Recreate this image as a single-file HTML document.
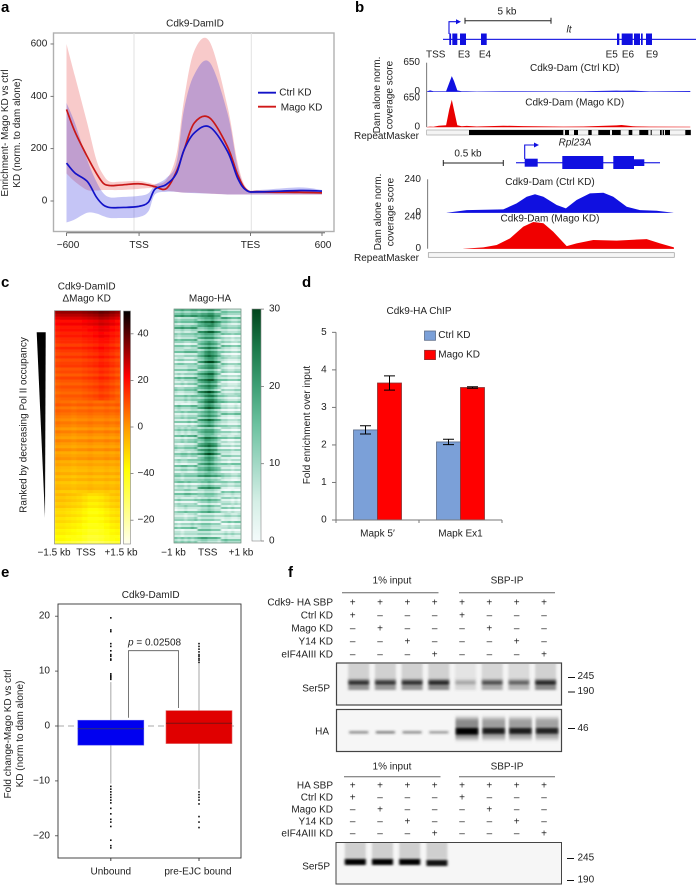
<!DOCTYPE html>
<html lang="en">
<head>
<meta charset="utf-8">
<title>Cdk9 DamID figure</title>
<style>
html,body{margin:0;padding:0;background:#fff;}
svg{display:block;font-family:"Liberation Sans",Arial,sans-serif;font-size:10px;fill:#222;}
.pl{font-size:15px;font-weight:bold;fill:#000;}
.m{text-anchor:middle;dominant-baseline:central;}
.r{text-anchor:end;dominant-baseline:central;}
.l{text-anchor:start;dominant-baseline:central;}
</style>
</head>
<body>
<svg id="fig" xmlns="http://www.w3.org/2000/svg" width="696" height="885" viewBox="0 0 696 885">
<defs>
<linearGradient id="heatGrad" x1="0" y1="1" x2="0" y2="0">
<stop offset="0" stop-color="#fffff0"/><stop offset=".32" stop-color="#ffff00"/><stop offset=".5" stop-color="#ff9a00"/><stop offset=".72" stop-color="#ff0000"/><stop offset="1" stop-color="#000"/>
</linearGradient>
<linearGradient id="greenGrad" x1="0" y1="1" x2="0" y2="0">
<stop offset="0" stop-color="#f4fbfb"/><stop offset=".17" stop-color="#d5efe6"/><stop offset=".33" stop-color="#a3d9c6"/><stop offset=".5" stop-color="#6cc2a0"/><stop offset=".67" stop-color="#3d9f74"/><stop offset=".83" stop-color="#1b7a4a"/><stop offset="1" stop-color="#00441b"/>
</linearGradient>
<linearGradient id="wedgeGrad" x1="0" y1="0" x2="0" y2="1"><stop offset="0" stop-color="#000"/><stop offset="1" stop-color="#111"/></linearGradient>
<filter id="b1" x="-30%" y="-100%" width="160%" height="300%"><feGaussianBlur stdDeviation="1.2 1"/></filter>
<filter id="b2" x="-30%" y="-60%" width="160%" height="220%"><feGaussianBlur stdDeviation="1 2"/></filter>
<filter id="bh" x="-5%" y="-5%" width="110%" height="110%"><feGaussianBlur stdDeviation="0.9 0.3"/></filter>
<clipPath id="clipS1"><rect x="337" y="664" width="224" height="40"/></clipPath>
<clipPath id="clipHA"><rect x="337" y="710" width="224" height="41"/></clipPath>
<clipPath id="clipS2"><rect x="337" y="843" width="224" height="40"/></clipPath>
<clipPath id="clipH1"><rect x="54.5" y="310.7" width="66" height="233.3"/></clipPath>
<clipPath id="clipH2"><rect x="174" y="309" width="67" height="234"/></clipPath>
</defs>

<text class="pl" x="1" y="12">a</text>
<text class="pl" x="355" y="12">b</text>
<text class="pl" x="1" y="287">c</text>
<text class="pl" x="302" y="287">d</text>
<text class="pl" x="1" y="577">e</text>
<text class="pl" x="288" y="577">f</text>

<!-- Panel a -->
<g id="panelA">
<text class="m" x="195" y="24">Cdk9-DamID</text>
<rect x="53.5" y="33" width="280.5" height="198.5" fill="#fff" stroke="#b0b0b0" stroke-width="1.4"/>
<line x1="134" y1="33" x2="134" y2="231" stroke="#e2e2e2"/>
<line x1="251.3" y1="33" x2="251.3" y2="231" stroke="#e2e2e2"/>
<g id="aMarks"></g>
<g id="aAxes"></g>
<text class="m" transform="translate(5.5,133) rotate(-90)">Enrichment- Mago KD vs ctrl</text>
<text class="m" transform="translate(17.5,133) rotate(-90)">KD (norm. to dam alone)</text>
<line x1="258" y1="92.7" x2="276" y2="92.7" stroke="#1212c8" stroke-width="1.8"/>
<line x1="258" y1="106.7" x2="276" y2="106.7" stroke="#d01818" stroke-width="1.8"/>
<text class="l" x="279.3" y="93">Ctrl KD</text>
<text class="l" x="280.7" y="108">Mago KD</text>
</g>

<!-- Panel b -->
<g id="panelB">
<text class="m" x="507" y="12">5 kb</text>
<path d="M465 17.7V23.7M465 20.7H551M551 17.7V23.7" stroke="#222" stroke-width="1" fill="none"/>
<g id="geneLt" fill="#1010e0">
<rect x="443" y="38.8" width="253" height="1.1"/>
<rect x="449.3" y="33.5" width="1.8" height="11.5"/>
<rect x="452.3" y="33.5" width="5" height="11.5"/>
<rect x="460" y="33.5" width="6" height="11.5"/>
<rect x="481" y="33.5" width="5.7" height="11.5"/>
<rect x="617" y="33.5" width="2.3" height="11.5"/>
<rect x="621.7" y="33.5" width="11" height="11.5"/>
<rect x="634" y="33.5" width="6" height="11.5"/>
<rect x="641" y="33.5" width="1.7" height="11.5"/>
<rect x="646" y="33.5" width="6" height="11.5"/>
</g>
<path d="M449 34V21.7H458" stroke="#1010e0" stroke-width="1.1" fill="none"/>
<path d="M461 21.7L456 19.2V24.2Z" fill="#1010e0"/>
<text class="m" x="569" y="30" font-style="italic">lt</text>
<text class="m" x="435.7" y="55">TSS</text>
<text class="m" x="464" y="55">E3</text>
<text class="m" x="485" y="55">E4</text>
<text class="m" x="611.7" y="55">E5</text>
<text class="m" x="628" y="55">E6</text>
<text class="m" x="652" y="55">E9</text>
<text class="m" transform="translate(377.5,95) rotate(-90)">Dam alone norm.</text>
<text class="m" transform="translate(390,95) rotate(-90)">coverage score</text>
<g id="bTracks"></g>
<line x1="426.7" y1="62.7" x2="426.7" y2="127" stroke="#555" stroke-width=".8"/>
<line x1="427.7" y1="179.3" x2="427.7" y2="248.7" stroke="#555" stroke-width=".8"/>
<text class="m" x="574.7" y="68.3">Cdk9-Dam (Ctrl KD)</text>
<text class="m" x="574.7" y="103">Cdk9-Dam (Mago KD)</text>
<text class="r" x="419" y="136.5">RepeatMasker</text>
<rect x="426.7" y="130" width="264" height="5" fill="#f4f4f4" stroke="#999" stroke-width=".6"/>
<g fill="#000">
<rect x="469" y="130" width="94.3" height="5"/>
<rect x="565" y="130" width="4" height="5"/>
<rect x="574" y="130" width="4" height="5"/>
<rect x="588.3" y="130" width="3.4" height="5"/>
<rect x="598.3" y="130" width="11.7" height="5"/>
<rect x="612" y="130" width="8.7" height="5"/>
<rect x="628.7" y="130" width="3.6" height="5"/>
<rect x="639.3" y="130" width="9" height="5"/>
<rect x="650.7" y="130" width="1" height="5"/>
<rect x="660" y="130" width="1.7" height="5"/>
<rect x="662.7" y="130" width="1.3" height="5"/>
<rect x="665" y="130" width="5" height="5"/>
<rect x="685.3" y="130" width="5.4" height="5"/>
</g>
<text class="m" x="575" y="143" font-style="italic">Rpl23A</text>
<text class="m" x="468" y="154">0.5 kb</text>
<path d="M443.3 160V166M443.3 163H503.3M503.3 160V166" stroke="#222" stroke-width="1" fill="none"/>
<g fill="#1010e0">
<rect x="516" y="162.2" width="144" height="1.1"/>
<rect x="524.7" y="158.7" width="13" height="8"/>
<rect x="562.3" y="156" width="41" height="13"/>
<rect x="613.3" y="156" width="20.7" height="13"/>
<rect x="634" y="159.3" width="10.3" height="6.7"/>
</g>
<path d="M524.7 159V145H536" stroke="#1010e0" stroke-width="1.1" fill="none"/>
<path d="M539 145L534 142.5V147.5Z" fill="#1010e0"/>
<text class="m" x="550" y="182.7">Cdk9-Dam (Ctrl KD)</text>
<text class="m" x="550" y="219">Cdk9-Dam (Mago KD)</text>
<text class="m" transform="translate(378.5,212) rotate(-90)">Dam alone norm.</text>
<text class="m" transform="translate(391,212) rotate(-90)">coverage score</text>
<text class="r" x="419" y="258.5">RepeatMasker</text>
<rect x="428.3" y="252.7" width="246" height="4.6" fill="#f6f6f6" stroke="#999" stroke-width=".7"/>
</g>

<!-- Panel c -->
<g id="panelC">
<text class="m" x="86.7" y="287">Cdk9-DamID</text>
<text class="m" x="86.7" y="299">ΔMago KD</text>
<text class="m" x="210" y="299">Mago-HA</text>
<path d="M36.7 332.3H45.7L45 517.7Z" fill="url(#wedgeGrad)"/>
<text class="m" transform="translate(24,425) rotate(-90)">Ranked by decreasing Pol II occupancy</text>
<g clip-path="url(#clipH1)"><g id="heat1" filter="url(#bh)"></g></g>
<rect x="54.5" y="310.7" width="66" height="233.3" fill="none" stroke="#777" stroke-width=".6"/>
<g clip-path="url(#clipH2)"><g id="heat2" filter="url(#bh)"></g></g>
<rect x="174" y="309" width="67" height="234" fill="none" stroke="#6a8a7a" stroke-width=".7"/>
<rect x="123.5" y="311" width="7" height="233" fill="url(#heatGrad)" stroke="#888" stroke-width=".6"/>
<rect x="252" y="309" width="9" height="232" fill="url(#greenGrad)" stroke="#888" stroke-width=".6"/>
<g id="cTicks"></g>
<text class="m" x="54" y="553">−1.5 kb</text>
<text class="m" x="86" y="553">TSS</text>
<text class="m" x="121" y="553">+1.5 kb</text>
<text class="m" x="173.5" y="553">−1 kb</text>
<text class="m" x="207.7" y="553">TSS</text>
<text class="m" x="241" y="553">+1 kb</text>
</g>

<!-- Panel d -->
<g id="panelD">
<text class="m" x="419" y="311.7">Cdk9-HA ChIP</text>
<rect x="424.5" y="331" width="11" height="9.3" fill="#7ba0d8" stroke="#5c6c88" stroke-width=".8"/>
<rect x="424.5" y="350.3" width="11" height="9.3" fill="#ff0000" stroke="#8a3030" stroke-width=".8"/>
<text class="l" x="438.3" y="335.7">Ctrl KD</text>
<text class="l" x="438.3" y="355">Mago KD</text>
<text class="m" transform="translate(307.3,425) rotate(-90)">Fold enrichment over input</text>
<g id="dMarks"></g>
</g>

<!-- Panel e -->
<g id="panelE">
<text class="m" x="150.7" y="595.7">Cdk9-DamID</text>
<text class="m" transform="translate(8.3,734) rotate(-90)">Fold change-Mago KD vs ctrl</text>
<text class="m" transform="translate(20.7,734) rotate(-90)">KD (norm to dam alone)</text>
<g id="eMarks"></g>
<rect x="58" y="604" width="183" height="254" fill="none" stroke="#333" stroke-width=".9"/>
<path d="M128.5 717.7V650.7H178.5V708" fill="none" stroke="#555" stroke-width=".8"/>
<text x="128" y="645.5"><tspan font-style="italic">p</tspan> = 0.02508</text>
</g>

<!-- Panel f -->
<g id="panelF">
<text class="m" x="392" y="581">1% input</text>
<text class="m" x="507" y="581">SBP-IP</text>
<line x1="342" y1="592.7" x2="438.5" y2="592.7" stroke="#666"/>
<line x1="459" y1="592.7" x2="555" y2="592.7" stroke="#666"/>
<g id="fTop"></g>
<rect x="336.5" y="663" width="225" height="42" fill="#f4f4f4"/>
<g id="blotS1" clip-path="url(#clipS1)"></g>
<rect x="336.5" y="663" width="225" height="42" fill="none" stroke="#444" stroke-width="1.2"/>
<rect x="336.5" y="709.5" width="225" height="42" fill="#f6f6f6"/>
<g id="blotHA" clip-path="url(#clipHA)"></g>
<rect x="336.5" y="709.5" width="225" height="42" fill="none" stroke="#444" stroke-width="1.2"/>
<text class="r" x="330" y="689">Ser5P</text>
<text class="r" x="329" y="732">HA</text>
<path d="M568 677.5h7M568 692h7M568 728.5h7" stroke="#111" stroke-width="1"/>
<text class="l" x="577.5" y="676.5">245</text>
<text class="l" x="577.5" y="691.5">190</text>
<text class="l" x="577.5" y="728.5">46</text>

<text class="m" x="392" y="767">1% input</text>
<text class="m" x="507" y="767">SBP-IP</text>
<line x1="344" y1="776.7" x2="440.5" y2="776.7" stroke="#666"/>
<line x1="459" y1="776.7" x2="555" y2="776.7" stroke="#666"/>
<g id="fBottom"></g>
<rect x="336" y="842.5" width="225.5" height="41.5" fill="#f6f6f6"/>
<g id="blotS2" clip-path="url(#clipS2)"></g>
<rect x="336" y="842.5" width="225.5" height="41.5" fill="none" stroke="#444" stroke-width="1"/>
<text class="r" x="330" y="867">Ser5P</text>
<path d="M567 858.5h7M567 880.5h7" stroke="#111" stroke-width="1"/>
<text class="l" x="577.5" y="858">245</text>
<text class="l" x="577.5" y="880">190</text>
</g>
</svg>

<script>
/* ---- Panel a data ---- */
const metaBins = [0,3.3,8.1,11.7,14.4,17,21,28,32,34.6,39,43,46,50,56,63,67,70.5,75.6,91.4,100];
const ctrlMean = [145,107,75,15,-15,-25,-25,-21,-5,45,63,105,195,260,283,190,87,40,35,40,38];
const magoMean = [350,265,170,106,68,59,61,66,61,55,47,112,195,298,318,208,100,42,35,33,31];
const ctrlUpper = [375,298,157,74,30,14,15,19,29,61,87,145,350,483,530,336,130,45,42,52,42];
const ctrlLower = [-82,-70,-45,-48,-58,-65,-65,-62,-40,25,35,35,32,30,28,25,25,25,25,25,25];
const magoUpper = [600,477,298,157,100,74,74,77,70,65,80,176,387,573,609,362,145,49,42,42,40];
const magoLower = [105,74,42,40,42,42,42,46,49,49,40,35,32,32,28,25,25,25,25,25,25];
const aYTicks = [0,200,400,600];
const aXTickBins = [0,28.4,72,100];
const aXTickLabels = ['−600','TSS','TES','600'];

/* ---- Panel b data ---- */
const ltKb = [-1.3,-1.1,-0.9,-0.6,-0.17,0.02,0.16,0.29,0.48,0.74,1.03,1.61,3.16,4.32,6.65,7.81,9.74,10.03,10.7,11.67,14.03];
const ltCtrl = [5,30,8,8,12,200,350,240,30,10,12,4,8,8,6,12,25,22,25,6,15];
const ltMago = [0,8,5,30,40,400,610,380,40,15,25,12,30,20,10,12,35,45,15,8,6];
const rplCtrlKb = [-0.65,-0.483,-0.178,-0.067,0.017,0.086,0.156,0.267,0.344,0.433,0.544,0.656,0.739,0.85,0.961,1.1,1.239];
const rplCtrl = [0,19,24,67,115,132,115,55,31,91,139,144,115,43,19,14,0];
const rplMagoKb = [-0.511,-0.344,-0.233,-0.122,-0.011,0.072,0.156,0.239,0.35,0.433,0.572,0.767,1.017,1.128,1.244];
const rplMago = [0,10,28,78,167,202,192,129,20,40,66,61,73,40,10];
const ltTickValues = [650,0];
const rplTickValues = [240,0];

/* ---- Panel c data ---- */
const heatRows = [34,30,26,21,23,19,20,17,19,16,16,13,17,14,12,15,11,13,14,10,12,9,13,10,8,11,9,7,10,8,6,9,5,8,6,4,2,5,3,0,4,1,-1,3,0,-2,2,-3,-1,1,-4,-2,-5,-6,-3,-7,-4,-8,-6,-5,-9,-7,-10,-8,-11,-9,-13,-14,-12,-15,-13,-16,-15,-18,-17,-20,-19,-26];
const heatColsTop = [-1,0,0,0,0,1,2,3,5,4,2,0];
const heatColsMid = [1,0,0,-1,0,0,1,0,0,1,0,1];
const heatColsBottom = [2,2,1,0,-1,-3,-5,-5,-4,-2,0,1];
const greenMatrix = [
"55655666778866554444","54555566788976554334","44544556678865443334","43444455677754433233","44433445678764433223",
"33344445689875433223","34433345689975432223","33334445678864432233","34344456789964332223","33434456789874332223",
"43344456789864322233","33343445689975432223","34333445689865332232","33434445678764332233","33334345678754332223",
"34343445677754333223","33434455688764332233","43344456789874333233","33443445689864333222","34334445678754332333",
"33443345567654333233","44344445566554433223","34434334556544332233","33344334455543322322","34333343445443333232",
"23343333445433332322","33323343444433233223","32333433444333223233","33233334444333232322","43434344554443343333"];
const greenStreak = [3,-2,1,5,-3,0,2,-4,1,6,-1,-3,2,0,-2,4,1,-4,3,-1,0,5,-3,1,-2,2,-4,3,0,-1,4,-2,1,-3,5,0,-2,2,-4,1,3,-1,-3,4,0,2,-2,-4,5,1,-1,3,-3,0,2,-2,4,-4,1,0,3,-1,-2,5,-3,1,2,-4,0,3,-1,-2,4,1,-3,2,0,-4,5,-1,2,-3,1,3,-2,0,4,-4,1,-1,2,-3,5,0,-2,3,-4,1,2,-1,-3,4,0,-2,1,3,-4,2,-1,5,-3,0,1,-2,3,-1,2];
const heatTickLabels = ['40','20','0','−40','−20'];
const heatTickValues = [40,20,0,-20,-40];
const greenTickValues = [30,20,10,0];
const heatStops = [[-50,255,255,240],[-18,255,255,0],[0,255,154,0],[22,255,0,0],[50,0,0,0]];
const greenStops = [[0,244,251,251],[5,213,239,230],[10,163,217,198],[15,108,194,160],[20,61,159,116],[25,27,122,74],[30,0,68,27]];

/* ---- Panel d data ---- */
const dCategories = ['Mapk 5′','Mapk Ex1'];
const dCtrl = [2.4,2.08];
const dMago = [3.65,3.53];
const dCtrlErr = [0.11,0.07];
const dMagoErr = [0.19,0.02];
const dYTicks = [0,1,2,3,4,5];

/* ---- Panel e data ---- */
const eCategories = ['Unbound','pre-EJC bound'];
const eQ1 = [-3.5,-3.2];
const eMedian = [-0.5,0.5];
const eQ3 = [1.05,2.8];
const eWhiskerLow = [-10.5,-11.5];
const eWhiskerHigh = [8,11.5];
const eOutliersUnbound = [19.7,17.5,17.2,15,14.5,13.7,13,12.7,12.2,12,9.5,9.2,9,8.8,8.5,-11,-11.5,-12,-12.5,-13,-13.5,-14,-15,-16,-17,-17.5,-18.3,-20.8,-21.8,-22.2];
const eOutliersBound = [15,14.5,14,13.5,13,12.7,12.3,12,11.6,-12,-12.5,-13,-13.5,-14.2,-16.5,-17.5,-18.5];
const eYTicks = [20,10,0,-10,-20];

/* ---- Panel f data ---- */
const ser5pTop = [0.85,0.8,0.85,0.92,0.25,0.65,0.55,0.92];
const haTop = [0.4,0.45,0.4,0.35,1,0.82,0.82,0.78];
const ser5pBottom = [1,1,1,0.92];
const topRowLabels = ['Cdk9- HA SBP','Ctrl KD','Mago KD','Y14 KD','eIF4AIII KD'];
const bottomRowLabels = ['HA SBP','Ctrl KD','Mago KD','Y14 KD','eIF4AIII KD'];

/* ---- helpers ---- */
const NS = 'http://www.w3.org/2000/svg';
function mk(tag, attrs, parent){
  const e = document.createElementNS(NS, tag);
  for (const k in attrs) e.setAttribute(k, attrs[k]);
  parent.appendChild(e);
  return e;
}
function byId(i){ return document.getElementById(i); }
function smooth(pts){
  let d = 'M' + pts[0][0] + ' ' + pts[0][1];
  for (let i = 0; i < pts.length - 1; i++){
    const p0 = pts[Math.max(i-1,0)], p1 = pts[i], p2 = pts[i+1], p3 = pts[Math.min(i+2,pts.length-1)];
    const c1x = p1[0] + (p2[0]-p0[0])/6, c1y = p1[1] + (p2[1]-p0[1])/6;
    const c2x = p2[0] - (p3[0]-p1[0])/6, c2y = p2[1] - (p3[1]-p1[1])/6;
    d += 'C' + c1x.toFixed(2) + ' ' + c1y.toFixed(2) + ' ' + c2x.toFixed(2) + ' ' + c2y.toFixed(2) + ' ' + p2[0].toFixed(2) + ' ' + p2[1].toFixed(2);
  }
  return d;
}
function cmap(stops, v){
  if (v <= stops[0][0]) return 'rgb(' + stops[0].slice(1).join(',') + ')';
  for (let i = 1; i < stops.length; i++){
    if (v <= stops[i][0]){
      const a = stops[i-1], b = stops[i], t = (v-a[0])/(b[0]-a[0]);
      return 'rgb(' + [1,2,3].map(j => Math.round(a[j] + (b[j]-a[j])*t)).join(',') + ')';
    }
  }
  return 'rgb(' + stops[stops.length-1].slice(1).join(',') + ')';
}

/* ---- Panel a ---- */
const ax = b => 66.5 + b * 2.555;
const ay = v => 201 - v * 0.2617;
function bandPath(up, lo){
  const top = metaBins.map((b,i) => [ax(b), ay(up[i])]);
  const bot = metaBins.map((b,i) => [ax(b), ay(lo[i])]).reverse();
  return smooth(top) + 'L' + bot[0][0] + ' ' + bot[0][1] + smooth(bot).replace(/^M[^C]*/, '') + 'Z';
}
const aM = byId('aMarks');
const bandRed = mk('path', {d: bandPath(magoUpper, magoLower), fill: '#e02020', 'fill-opacity': .24}, aM);


const bandBlue = mk('path', {d: bandPath(ctrlUpper, ctrlLower), fill: '#3030e0', 'fill-opacity': .28}, aM);


const lineRed = mk('path', {d: smooth(metaBins.map((b,i) => [ax(b), ay(magoMean[i])])), fill: 'none', stroke: '#c81818', 'stroke-width': 1.7}, aM);


const lineBlue = mk('path', {d: smooth(metaBins.map((b,i) => [ax(b), ay(ctrlMean[i])])), fill: 'none', stroke: '#1212c8', 'stroke-width': 1.7}, aM);


const aA = byId('aAxes');
const aXLine = mk('line', {x1: ax(0), x2: ax(100)+3, y1: 232.8, y2: 232.8, stroke: '#555', 'stroke-width': .9}, aA);


aYTicks.forEach(t => {
  const tk = mk('line', {x1: 50.5, x2: 53.5, y1: ay(t), y2: ay(t), stroke: '#555', 'stroke-width': .8}, aA);
  
  
  const lb = mk('text', {x: 47.3, y: ay(t), class: 'r'}, aA);
  lb.textContent = t;
  
  
});
aXTickBins.forEach((b,i) => {
  const x = ax(b);
  const tk = mk('line', {x1: x, x2: x, y1: 232.8, y2: 236, stroke: '#555', 'stroke-width': .8}, aA);
  
  
  const lb = mk('text', {x: x + (i===0?1.5:i===3?1:0), y: 245.7, class: 'm'}, aA);
  lb.textContent = aXTickLabels[i];
  
  
});

/* ---- Panel b ---- */
const ltX = k => 449 + k * 17.2;
const rplX = k => 524.67 + k * 120;
const bT = byId('bTracks');
function trackPath(xs, ys, base){
  const pts = xs.map((x,i) => [x, ys[i]]);
  return 'M' + xs[0] + ' ' + base + 'L' + pts.map(p => p[0].toFixed(1) + ' ' + p[1].toFixed(1)).join('L') + 'L' + xs[xs.length-1] + ' ' + base + 'Z';
}
const yT1 = v => 91.7 - v * 29/650;
const yT2 = v => 127 - v * 29/650;
const yT3 = v => 212.7 - v * 33.4/240;
const yT4 = v => 248.7 - v * 31.7/240;
const tr1 = mk('path', {d: trackPath(ltKb.map(ltX), ltCtrl.map(yT1), 91.9), fill: '#1010e0'}, bT);


const tr2 = mk('path', {d: trackPath(ltKb.map(ltX), ltMago.map(yT2), 127.2), fill: '#e80000'}, bT);


const tr3 = mk('path', {d: trackPath(rplCtrlKb.map(rplX), rplCtrl.map(yT3), 212.9), fill: '#1010e0'}, bT);


const tr4 = mk('path', {d: trackPath(rplMagoKb.map(rplX), rplMago.map(yT4), 248.9), fill: '#f00000'}, bT);


ltTickValues.forEach(v => {
  const a = mk('text', {x: 420, y: yT1(v), class: 'r'}, bT);
  a.textContent = v;
  
  
  const b = mk('text', {x: 420, y: yT2(v), class: 'r'}, bT);
  b.textContent = v;
  
  
});
rplTickValues.forEach(v => {
  const a = mk('text', {x: 421, y: yT3(v), class: 'r'}, bT);
  a.textContent = v;
  
  
  const b = mk('text', {x: 421, y: yT4(v), class: 'r'}, bT);
  b.textContent = v;
  
  
});

/* ---- Panel c ---- */
const h1 = byId('heat1');
const h1x = 54.5, h1w = 66, h1y = 310.7, h1h = 233.3;
heatRows.forEach((rv, r) => {
  const offsets = r < 30 ? heatColsTop : (r > 60 ? heatColsBottom : heatColsMid);
  offsets.forEach((cv, c) => {
    const cell = mk('rect', {
      x: h1x + c * h1w / offsets.length,
      y: h1y + r * h1h / heatRows.length,
      width: h1w / offsets.length + .3,
      height: h1h / heatRows.length + .3,
      fill: cmap(heatStops, rv + cv)
    }, h1);
    
    
  });
});
const h2 = byId('heat2');
const h2x = 174, h2w = 67, h2y = 309, h2h = 234;
const nCols = greenMatrix[0].length;
greenStreak.forEach((s, r) => {
  const rowStr = greenMatrix[Math.floor(r * greenMatrix.length / greenStreak.length)];
  for (let c = 0; c < nCols; c++){
    /* dashes: each third of the width reads the streak list at a different row */
    const seg = Math.floor(c * 3 / nCols);
    const st = greenStreak[(r + seg * 37) % greenStreak.length];
    const cell = mk('rect', {
      x: h2x + c * h2w / nCols,
      y: h2y + r * h2h / greenStreak.length,
      width: h2w / nCols + .3,
      height: h2h / greenStreak.length + .3,
      fill: cmap(greenStops, Number(rowStr[c]) * 2.5 + st * 1.5)
    }, h2);
    
    
  }
});
const cT = byId('cTicks');
const heatTickY = v => 427 - v * 2.33;
heatTickValues.forEach((v,i) => {
  const y = heatTickY(v);
  const tk = mk('line', {x1: 130.5, x2: 133.5, y1: y, y2: y, stroke: '#777', 'stroke-width': .8}, cT);
  
  
  const lb = mk('text', {x: 137.5, y: y, class: 'l'}, cT);
  lb.textContent = heatTickLabels[i];
  
  
});
const greenTickY = v => 541 - v * 7.73;
greenTickValues.forEach(v => {
  const y = greenTickY(v);
  const tk = mk('line', {x1: 261, x2: 264, y1: y, y2: y, stroke: '#777', 'stroke-width': .8}, cT);
  
  
  const lb = mk('text', {x: 269, y: y, class: 'l'}, cT);
  lb.textContent = v;
  
  
});

/* ---- Panel d ---- */
const dM = byId('dMarks');
const dy = v => 520 - v * 37.53;
const dGroup = i => 377.5 + i * 83;
const dBarW = 24;
dCategories.forEach((cat,i) => {
  const gx = dGroup(i);
  const b1 = mk('rect', {x: gx - dBarW, y: dy(dCtrl[i]), width: dBarW, height: 520 - dy(dCtrl[i]), fill: '#7ba0d8', stroke: '#5c6c88', 'stroke-width': .8}, dM);
  
  
  const b2 = mk('rect', {x: gx, y: dy(dMago[i]), width: dBarW, height: 520 - dy(dMago[i]), fill: '#ff0000', stroke: '#8a3030', 'stroke-width': .8}, dM);
  
  
  const cx1 = gx - dBarW/2, cx2 = gx + dBarW/2;
  const e1 = mk('path', {d: `M${cx1-5.5} ${dy(dCtrl[i]+dCtrlErr[i])}h11M${cx1} ${dy(dCtrl[i]+dCtrlErr[i])}V${dy(dCtrl[i]-dCtrlErr[i])}M${cx1-5.5} ${dy(dCtrl[i]-dCtrlErr[i])}h11`, stroke: '#000', fill: 'none', 'stroke-width': 1}, dM);
  
  
  const e2 = mk('path', {d: `M${cx2-5.5} ${dy(dMago[i]+dMagoErr[i])}h11M${cx2} ${dy(dMago[i]+dMagoErr[i])}V${dy(dMago[i]-dMagoErr[i])}M${cx2-5.5} ${dy(dMago[i]-dMagoErr[i])}h11`, stroke: '#000', fill: 'none', 'stroke-width': 1}, dM);
  
  
  const lb = mk('text', {x: gx, y: 534, class: 'm'}, dM);
  lb.textContent = cat;
  
  
});
const dAxis = mk('path', {d: 'M336 332.3V520H502M336 520v3M419 520v3M502 520v3', fill: 'none', stroke: '#777', 'stroke-width': 1}, dM);


dYTicks.forEach(t => {
  const tk = mk('line', {x1: 332, x2: 336, y1: dy(t), y2: dy(t), stroke: '#777', 'stroke-width': 1}, dM);
  
  
  const lb = mk('text', {x: 326.7, y: dy(t), class: 'r'}, dM);
  lb.textContent = t;
  
  
});

/* ---- Panel e ---- */
const eM = byId('eMarks');
const ey = v => 726 - v * 5.49;
const eCx = [110.8, 199];
const eFill = ['#0000f0','#e00000'];
const eEdge = ['#6060f0','#e06060'];
const eMed = ['#303070','#7a1010'];
const eOut = [eOutliersUnbound, eOutliersBound];
const zero = mk('line', {x1: 58, x2: 238, y1: ey(0), y2: ey(0), stroke: '#aaa', 'stroke-width': .9, 'stroke-dasharray': '6 4'}, eM);


eCategories.forEach((cat,i) => {
  const w = mk('line', {x1: eCx[i], x2: eCx[i], y1: ey(eWhiskerHigh[i]), y2: ey(eWhiskerLow[i]), stroke: '#b5b5b5', 'stroke-width': 1.2}, eM);
  
  
  eOut[i].forEach(v => {
    const d = mk('rect', {x: eCx[i]-.8, y: ey(v)-.8, width: 1.6, height: 1.6, fill: '#111'}, eM);
    
    
  });
  const box = mk('rect', {x: eCx[i]-33, y: ey(eQ3[i]), width: 66, height: ey(eQ1[i]) - ey(eQ3[i]), fill: eFill[i], stroke: eEdge[i], 'stroke-width': .6}, eM);
  
  
  const med = mk('line', {x1: eCx[i]-33, x2: eCx[i]+33, y1: ey(eMedian[i]), y2: ey(eMedian[i]), stroke: eMed[i], 'stroke-width': .9}, eM);
  
  
  const tk = mk('line', {x1: eCx[i], x2: eCx[i], y1: 858, y2: 861, stroke: '#444'}, eM);
  
  
  const lb = mk('text', {x: eCx[i] - (i?1:0), y: 872, class: 'm'}, eM);
  lb.textContent = cat;
  
  
});
eYTicks.forEach(t => {
  const tk = mk('line', {x1: 55, x2: 58, y1: ey(t), y2: ey(t), stroke: '#444', 'stroke-width': .8}, eM);
  
  
  const lb = mk('text', {x: 50, y: ey(t), class: 'r'}, eM);
  lb.textContent = (t < 0 ? '−' + (-t) : t);
  
  
});

/* ---- Panel f ---- */
const laneX = i => 352.7 + i * 27.33;
function condTable(group, labels, rowY){
  labels.forEach((name, r) => {
    const lb = mk('text', {x: 333, y: rowY(r), class: 'r'}, group);
    lb.textContent = name;
    
    
    for (let l = 0; l < 8; l++){
      const on = r === 0 || (l % 4) === r - 1;
      const m = mk('text', {x: laneX(l), y: rowY(r), class: 'm'}, group);
      m.textContent = on ? '+' : '–';
      
      
    }
  });
}
condTable(byId('fTop'), topRowLabels, r => 603 + r * 13);
condTable(byId('fBottom'), bottomRowLabels, r => 786 + r * 12);

const blotLane = i => 358.7 + i * 26.7;
const s1 = byId('blotS1');
ser5pTop.forEach((v,i) => {
  const x = blotLane(i);
  const sm = mk('rect', {x: x-10.5, y: 660, width: 21, height: 22, fill: '#777', 'fill-opacity': .28 * Math.min(1, v + .2), filter: 'url(#b2)'}, s1);
  
  
  const h = mk('rect', {x: x-10.5, y: 679, width: 21, height: 11, fill: '#555', 'fill-opacity': v * .72, filter: 'url(#b1)'}, s1);
  
  
  const b = mk('rect', {x: x-10, y: 681, width: 20, height: 3.5, fill: '#000', 'fill-opacity': v * .8, filter: 'url(#b1)'}, s1);
  
  
});
const ha = byId('blotHA');
haTop.forEach((v,i) => {
  const x = blotLane(i) + (i > 3 ? 1.5 : 0);
  if (i < 4){
    const b = mk('rect', {x: x-9.5, y: 731, width: 19, height: 2.6, fill: '#333', 'fill-opacity': v * 1.3, filter: 'url(#b1)'}, ha);
    
    
  } else {
    const halo = mk('rect', {x: x-11.5, y: 718, width: 23, height: 21, fill: '#666', 'fill-opacity': v * .75, filter: 'url(#b2)'}, ha);
    
    
    const b = mk('rect', {x: x-11, y: 728, width: 22, height: 3 + v * 3.5, fill: '#000', 'fill-opacity': v, filter: 'url(#b1)'}, ha);
    
    
  }
});
const s2 = byId('blotS2');
ser5pBottom.forEach((v,i) => {
  const x = 355.3 + i * 27.2;
  const sm = mk('rect', {x: x-10.5, y: 840, width: 21, height: 21, fill: '#777', 'fill-opacity': .3, filter: 'url(#b2)'}, s2);
  
  
  const b = mk('rect', {x: x-10.5, y: 859 + (i===3?1:0), width: 21, height: 6, fill: '#000', 'fill-opacity': v, filter: 'url(#b1)'}, s2);
  
  
});
</script>
</body>
</html>
